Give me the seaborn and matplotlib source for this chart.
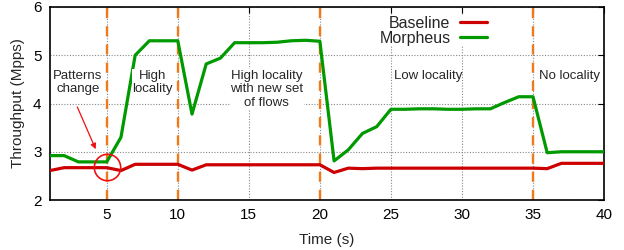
import numpy as np
import pandas as pd
import matplotlib
matplotlib.use("Agg")
import matplotlib.pyplot as plt
import seaborn as sns

time_s = list(range(1, 41))
baseline = [2.61, 2.67, 2.67, 2.67, 2.67, 2.61, 2.74, 2.74, 2.74, 2.74,
            2.62, 2.73, 2.73, 2.73, 2.73, 2.73, 2.73, 2.73, 2.73, 2.73,
            2.57, 2.66, 2.65, 2.66, 2.66, 2.66, 2.66, 2.66, 2.66, 2.66,
            2.66, 2.66, 2.66, 2.66, 2.66, 2.65, 2.76, 2.76, 2.76, 2.76]
morpheus = [2.92, 2.92, 2.79, 2.79, 2.79, 3.30, 5.00, 5.30, 5.30, 5.30,
            3.78, 4.82, 4.94, 5.26, 5.26, 5.26, 5.27, 5.30, 5.31, 5.29,
            2.81, 3.04, 3.38, 3.52, 3.88, 3.88, 3.89, 3.89, 3.88, 3.88,
            3.89, 3.89, 4.02, 4.14, 4.14, 2.98, 3.00, 3.00, 3.00, 3.00]
series_names = ["Baseline", "Morpheus"]
phase_changes = [5, 10, 20, 35]
phase_labels = ["Patterns\nchange", "High\nlocality", "High locality\nwith new set\nof flows",
                "Low locality", "No locality"]
phase_label_x = [2.97, 8.23, 16.26, 27.6, 37.6]
phase_label_y = 4.70
xticks = [5, 10, 15, 20, 25, 30, 35, 40]
yticks = [2, 3, 4, 5, 6]

df = pd.DataFrame({
    "Time (s)": time_s * 2,
    "Throughput": baseline + morpheus,
    "Series": [series_names[0]] * len(time_s) + [series_names[1]] * len(time_s),
})

sns.set_style("white")
plt.rcParams["font.family"] = ["Liberation Sans", "DejaVu Sans"]

fig = plt.figure(figsize=(6.24, 2.5), dpi=100)
ax = fig.add_axes([0.080, 0.20, 0.888, 0.772])

ax.grid(True, color="#888888", linestyle=(0, (1, 1.5)), linewidth=0.8)
ax.set_axisbelow(True)

for xc in phase_changes:
    ax.axvline(xc, color="#f07a1a", linewidth=1.7, linestyle=(0, (4.3, 3.4)), zorder=1.5)

palette = {"Baseline": "#cc0000", "Morpheus": "#009a00"}
sns.lineplot(data=df, x="Time (s)", y="Throughput", hue="Series", palette=palette,
             linewidth=2.3, ax=ax, zorder=3)

ax.set_xlim(1, 40)
ax.set_ylim(2, 6)
ax.set_xticks(xticks)
ax.set_yticks(yticks)
ax.tick_params(axis="both", direction="in", length=4, labelsize=11, top=True, right=True,
               colors="black", pad=6)
for s in ax.spines.values():
    s.set_color("black")
    s.set_linewidth(1.2)
ax.set_xlabel("Time (s)", fontsize=11, labelpad=8)
ax.set_ylabel("Throughput (Mpps)", fontsize=11, labelpad=6)

for lx, lt in zip(phase_label_x, phase_labels):
    ax.text(lx, phase_label_y, lt, ha="center", va="top",
            fontsize=9.5, linespacing=1.17,
            bbox=dict(facecolor="white", edgecolor="none", pad=0.3))

# highlight circle and arrow
circle_x, circle_y = 5, 2.69
ax.plot([circle_x], [circle_y], marker="o", markersize=19, markerfacecolor="none",
        markeredgecolor="#ee1111", markeredgewidth=1.2, zorder=4)
ax.annotate("", xy=(4.3, 3.0), xytext=(2.85, 3.98),
            arrowprops=dict(arrowstyle="-|>", color="#ee1111", lw=0.9,
                            mutation_scale=8), zorder=4)

leg = ax.legend(loc="upper right", bbox_to_anchor=(0.789, 0.955), frameon=True,
                facecolor="white", edgecolor="none", framealpha=1.0, fancybox=False,
                markerfirst=False, fontsize=11.5, handlelength=1.7, labelspacing=0.0,
                handletextpad=0.6, borderpad=0.0, borderaxespad=0.0)
leg._legend_box.align = "right"
for h in leg.get_lines():
    h.set_linewidth(2.3)

fig.savefig("out.png", dpi=100)
